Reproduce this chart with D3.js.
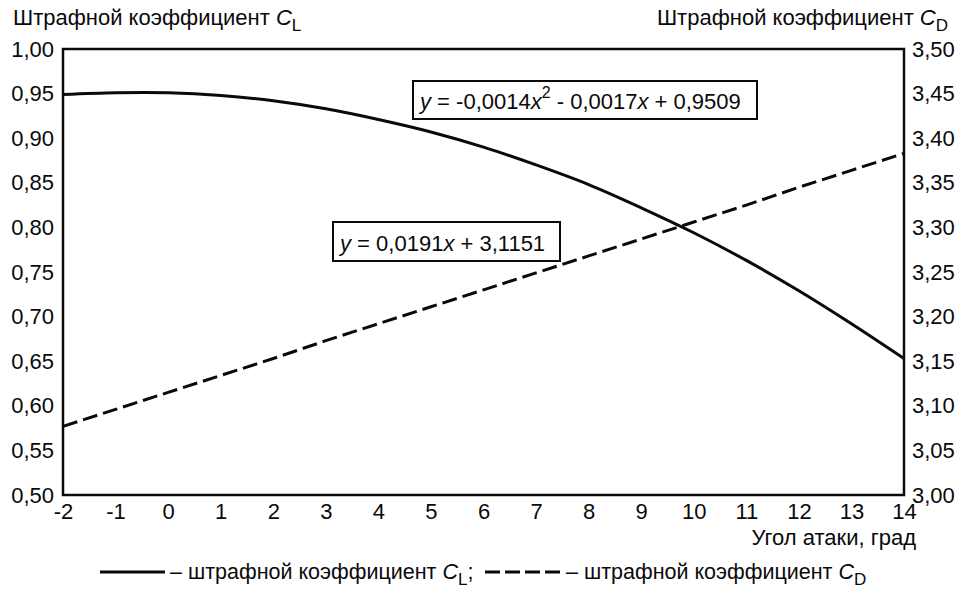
<!DOCTYPE html>
<html>
<head>
<meta charset="utf-8">
<script src="https://cdn.jsdelivr.net/npm/d3@7"></script>
<style>
  body { margin: 0; background: #fff; }
  svg { font-family: "Liberation Sans", Arial, sans-serif; }
</style>
</head>
<body>
<svg id="chart" width="960" height="591"></svg>
<script>
// Угол атаки, град
const angles = [-2, -1, 0, 1, 2, 3, 4, 5, 6, 7, 8, 9, 10, 11, 12, 13, 14];
// Штрафной коэффициент CL (левая ось)
const clValues = [0.949, 0.951, 0.951, 0.948, 0.942, 0.933, 0.921, 0.907, 0.890,
                  0.870, 0.848, 0.822, 0.794, 0.763, 0.729, 0.692, 0.653];
// Штрафной коэффициент CD (правая ось)
const cdValues = [3.077, 3.096, 3.115, 3.134, 3.153, 3.173, 3.192, 3.211, 3.230,
                  3.249, 3.268, 3.287, 3.306, 3.325, 3.345, 3.364, 3.383];
const xTicks = [-2, -1, 0, 1, 2, 3, 4, 5, 6, 7, 8, 9, 10, 11, 12, 13, 14];
const clTicks = [0.50, 0.55, 0.60, 0.65, 0.70, 0.75, 0.80, 0.85, 0.90, 0.95, 1.00];
const cdTicks = [3.00, 3.05, 3.10, 3.15, 3.20, 3.25, 3.30, 3.35, 3.40, 3.45, 3.50];

const svg = d3.select("#chart");
const plotL = 63, plotR = 904, plotT = 49, plotB = 495;
const FS = 22;
const INK = "#0a0a0a";

const x = d3.scaleLinear().domain([-2, 14]).range([plotL, plotR]);
const yL = d3.scaleLinear().domain([0.5, 1.0]).range([plotB, plotT]);
const yR = d3.scaleLinear().domain([3.0, 3.5]).range([plotB, plotT]);

const fmt = d => d3.format(".2f")(d).replace(".", ",");

// Оси
const gx = svg.append("g")
  .attr("transform", `translate(0,${plotB})`)
  .call(d3.axisBottom(x).tickValues(xTicks).tickSize(0).tickPadding(8).tickFormat(d => String(d)));
const gl = svg.append("g")
  .attr("transform", `translate(${plotL},0)`)
  .call(d3.axisLeft(yL).tickValues(clTicks).tickSize(0).tickPadding(9).tickFormat(fmt));
const gr = svg.append("g")
  .attr("transform", `translate(${plotR},0)`)
  .call(d3.axisRight(yR).tickValues(cdTicks).tickSize(0).tickPadding(8).tickFormat(fmt));

[gx, gl, gr].forEach(g => {
  g.select(".domain").remove();
  g.selectAll("text").attr("font-size", FS).attr("fill", INK)
   .attr("font-family", "'Liberation Sans', Arial, sans-serif");
});

// Рамка
svg.append("rect")
  .attr("x", plotL).attr("y", plotT)
  .attr("width", plotR - plotL).attr("height", plotB - plotT)
  .attr("fill", "none").attr("stroke", INK).attr("stroke-width", 2.5);

// Кривые
const lineCL = d3.line().x((d, i) => x(angles[i])).y(d => yL(d)).curve(d3.curveCatmullRom);
const lineCD = d3.line().x((d, i) => x(angles[i])).y(d => yR(d));

svg.append("path").datum(clValues).attr("d", lineCL)
  .attr("fill", "none").attr("stroke", INK).attr("stroke-width", 3);
svg.append("path").datum(cdValues).attr("d", lineCD)
  .attr("fill", "none").attr("stroke", INK).attr("stroke-width", 3)
  .attr("stroke-dasharray", "15,6");

// Подписи уравнений
function eqBox(bx, by, bw, bh, parts) {
  svg.append("rect").attr("x", bx).attr("y", by).attr("width", bw).attr("height", bh)
    .attr("fill", "#fff").attr("stroke", INK).attr("stroke-width", 2);
  const t = svg.append("text").attr("x", bx + 7).attr("y", by + bh - 10)
    .attr("font-size", FS).attr("fill", INK);
  parts.forEach(p => {
    const s = t.append("tspan").text(p.t);
    if (p.i) s.attr("font-style", "italic");
    if (p.sup) s.attr("font-size", 16).attr("dy", -11);
    if (p.down) s.attr("dy", 11);
  });
}
eqBox(413, 81, 344, 38, [
  {t: "y", i: true}, {t: " = -0,0014"}, {t: "x", i: true}, {t: "2", sup: true},
  {t: " - 0,0017", down: true}, {t: "x", i: true}, {t: " + 0,9509"}
]);
eqBox(333, 222, 227, 39, [
  {t: "y", i: true}, {t: " = 0,0191"}, {t: "x", i: true}, {t: " + 3,1151"}
]);

// Заголовки осей
function axisTitle(tx, ty, anchor, sub) {
  const t = svg.append("text").attr("x", tx).attr("y", ty).attr("text-anchor", anchor)
    .attr("font-size", FS).attr("fill", INK);
  t.append("tspan").text("Штрафной коэффициент ");
  t.append("tspan").text("C").attr("font-style", "italic");
  t.append("tspan").text(sub).attr("font-size", 17).attr("dy", 6);
  return t;
}
axisTitle(13, 25, "start", "L");
axisTitle(948, 25, "end", "D");

svg.append("text").attr("x", 916).attr("y", 545).attr("text-anchor", "end")
  .attr("font-size", FS).attr("fill", INK).text("Угол атаки, град");

// Легенда
const ly = 572, LFS = 21.5;
svg.append("line").attr("x1", 100).attr("x2", 165).attr("y1", ly).attr("y2", ly)
  .attr("stroke", INK).attr("stroke-width", 3);
const l1 = svg.append("text").attr("x", 170).attr("y", ly + 7).attr("font-size", LFS).attr("fill", INK);
l1.append("tspan").text("– штрафной коэффициент ");
l1.append("tspan").text("C").attr("font-style", "italic");
l1.append("tspan").text("L").attr("font-size", 17).attr("dy", 6);
l1.append("tspan").text(";").attr("dy", -6);

svg.append("line").attr("x1", 485).attr("x2", 562).attr("y1", ly).attr("y2", ly)
  .attr("stroke", INK).attr("stroke-width", 3).attr("stroke-dasharray", "15,5");
const l2 = svg.append("text").attr("x", 566).attr("y", ly + 7).attr("font-size", LFS).attr("fill", INK);
l2.append("tspan").text("– штрафной коэффициент ");
l2.append("tspan").text("C").attr("font-style", "italic");
l2.append("tspan").text("D").attr("font-size", 17).attr("dy", 6);
</script>
</body>
</html>
